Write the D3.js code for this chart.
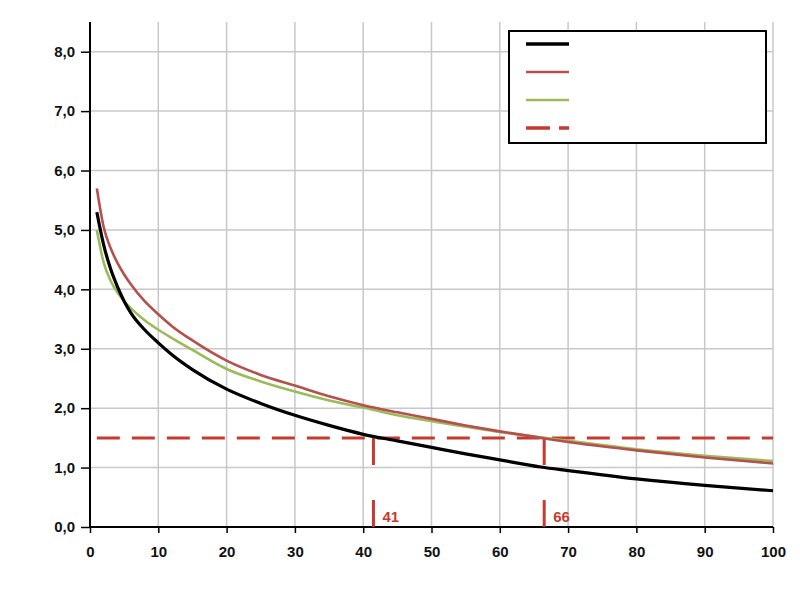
<!DOCTYPE html>
<html>
<head>
<meta charset="utf-8">
<script src="https://cdn.jsdelivr.net/npm/d3@7"></script>
<style>
  html, body { margin: 0; padding: 0; background: #fff; }
  svg { display: block; }
  text { font-family: "Liberation Sans", Arial, sans-serif; font-weight: bold; }
</style>
</head>
<body>
<svg id="chart" width="800" height="600"></svg>
<script>
// ---- data ----
const xs = [1, 2, 3, 4, 5, 6, 8, 10, 12, 15, 20, 25, 30, 35, 40, 45, 50, 55, 60, 66, 70, 80, 90, 100];
const blackSeries = [5.30, 4.75, 4.35, 4.05, 3.80, 3.60, 3.32, 3.10, 2.90, 2.65, 2.32, 2.08, 1.88, 1.71, 1.56, 1.45, 1.34, 1.23, 1.13, 1.01, 0.95, 0.81, 0.70, 0.61];
const redSeries   = [5.70, 5.05, 4.70, 4.45, 4.25, 4.08, 3.80, 3.58, 3.38, 3.14, 2.80, 2.56, 2.38, 2.20, 2.05, 1.93, 1.82, 1.71, 1.61, 1.50, 1.43, 1.29, 1.17, 1.07];
const greenSeries = [5.00, 4.45, 4.15, 3.95, 3.80, 3.68, 3.48, 3.32, 3.18, 2.98, 2.66, 2.45, 2.28, 2.13, 2.01, 1.88, 1.78, 1.69, 1.60, 1.51, 1.45, 1.31, 1.20, 1.11];
const thresholdY = 1.5;
const thresholdX = [1, 100];
const markers = [41.5, 66.5];
const markerLabels = ["41", "66"];
const xTicks = [0, 10, 20, 30, 40, 50, 60, 70, 80, 90, 100];
const yTicks = [0, 1, 2, 3, 4, 5, 6, 7, 8];

const svg = d3.select("#chart");
const x = d3.scaleLinear().domain([0, 100]).range([90, 773]);
const y = d3.scaleLinear().domain([0, 8.5]).range([527, 22]);

const fmt = v => d3.format(".1f")(v).replace(".", ",");

// grid
svg.append("g").selectAll("line").data(xTicks.slice(1)).join("line")
  .attr("x1", d => x(d)).attr("x2", d => x(d))
  .attr("y1", y(8.5)).attr("y2", y(0))
  .attr("stroke", "#c8c8c8").attr("stroke-width", 1.5);
svg.append("g").selectAll("line").data(yTicks.slice(1)).join("line")
  .attr("x1", x(0)).attr("x2", x(100))
  .attr("y1", d => y(d)).attr("y2", d => y(d))
  .attr("stroke", "#c8c8c8").attr("stroke-width", 1.5);

// axes
const xAxis = d3.axisBottom(x).tickValues(xTicks).tickSize(6).tickPadding(13).tickFormat(d3.format("d"));
const yAxis = d3.axisLeft(y).tickValues(yTicks).tickSize(9).tickPadding(6).tickFormat(fmt);

const gx = svg.append("g").attr("transform", `translate(0,${y(0)})`).call(xAxis);
const gy = svg.append("g").attr("transform", `translate(${x(0)},0)`).call(yAxis);
[gx, gy].forEach(g => {
  g.select(".domain").attr("stroke", "#000").attr("stroke-width", 2);
  g.selectAll(".tick line").attr("stroke", "#000").attr("stroke-width", 1.5);
  g.selectAll(".tick text").attr("fill", "#111").style("font-size", "15px").style("font-weight", "bold")
    .style("font-family", "'Liberation Sans', Arial, sans-serif");
});
gy.select(".domain").attr("d", `M0,${y(8.5)}V${y(0)}`);
gx.select(".domain").attr("d", `M${x(0)},0H${x(100)}`);

// threshold dashed lines
const dashColor = "#c63a30";
svg.append("line")
  .attr("x1", x(thresholdX[0]) ).attr("x2", x(thresholdX[1]))
  .attr("y1", y(thresholdY)).attr("y2", y(thresholdY))
  .attr("stroke", dashColor).attr("stroke-width", 3).attr("stroke-dasharray", "23,12");
svg.append("g").selectAll("line").data(markers).join("line")
  .attr("x1", d => x(d)).attr("x2", d => x(d))
  .attr("y1", y(thresholdY)).attr("y2", y(0))
  .attr("stroke", dashColor).attr("stroke-width", 3).attr("stroke-dasharray", "27,35");
svg.append("g").selectAll("text").data(markers).join("text")
  .attr("x", d => x(d) + 9).attr("y", y(0) - 5)
  .attr("fill", dashColor).style("font-size", "15px")
  .text((d, i) => markerLabels[i]);

// curves
const line = d3.line().x((d, i) => x(xs[i])).y(d => y(d)).curve(d3.curveMonotoneX);
const seriesDefs = [
  { data: greenSeries, color: "#9bbb59", width: 2.6 },
  { data: redSeries, color: "#b5504c", width: 2.6 },
  { data: blackSeries, color: "#000", width: 3.2 }
];
seriesDefs.forEach(s => {
  svg.append("path").datum(s.data).attr("d", line)
    .attr("fill", "none").attr("stroke", s.color).attr("stroke-width", s.width);
});

// legend
const lg = svg.append("g");
lg.append("rect").attr("x", 509).attr("y", 31).attr("width", 257).attr("height", 112)
  .attr("fill", "#fff").attr("stroke", "#000").attr("stroke-width", 2);
const legendItems = [
  { color: "#000", width: 3.5, dash: null },
  { color: "#b5504c", width: 2.5, dash: null },
  { color: "#9bbb59", width: 2.5, dash: null },
  { color: dashColor, width: 3.5, dash: "24,9" }
];
lg.selectAll("line").data(legendItems).join("line")
  .attr("x1", 526).attr("x2", 569)
  .attr("y1", (d, i) => 44 + i * 28).attr("y2", (d, i) => 44 + i * 28)
  .attr("stroke", d => d.color).attr("stroke-width", d => d.width)
  .attr("stroke-dasharray", d => d.dash);
</script>
</body>
</html>
